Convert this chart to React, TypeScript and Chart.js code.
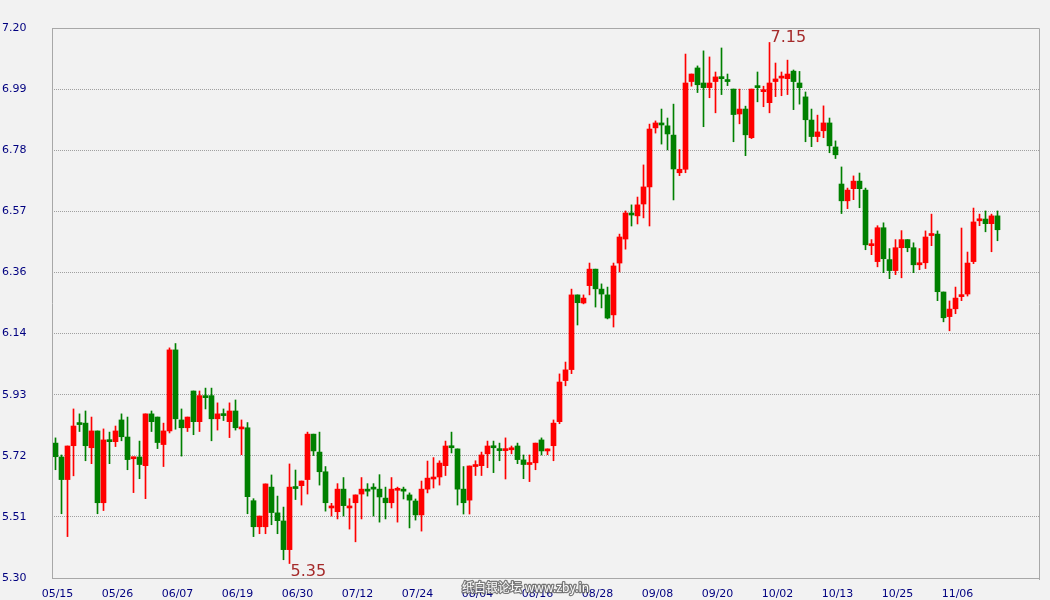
import React, { useEffect, useRef } from 'react';
import { Chart, registerables } from 'chart.js';

Chart.register(...registerables);

const dateLabels = ['05/15', '05/26', '06/07', '06/19', '06/30', '07/12', '07/24', '08/04', '08/16', '08/28', '09/08', '09/20', '10/02', '10/13', '10/25', '11/06'];
const dateLabelIndex = [0, 10, 20, 30, 40, 50, 60, 70, 80, 90, 100, 110, 120, 130, 140, 150];
const yTickValues = [5.3, 5.5111, 5.7222, 5.9333, 6.1444, 6.3556, 6.5667, 6.7778, 6.9889, 7.2];

const openPrices = [
  5.766, 5.718, 5.640, 5.757, 5.835, 5.835, 5.750, 5.808, 5.560, 5.777,
  5.771, 5.846, 5.787, 5.712, 5.718, 5.688, 5.867, 5.856, 5.761, 5.808,
  6.088, 5.846, 5.819, 5.946, 5.840, 5.930, 5.930, 5.850, 5.867, 5.840,
  5.877, 5.815, 5.819, 5.567, 5.477, 5.477, 5.614, 5.525, 5.497, 5.398,
  5.614, 5.619, 5.640, 5.797, 5.735, 5.667, 5.542, 5.529, 5.607, 5.542,
  5.560, 5.590, 5.607, 5.614, 5.607, 5.576, 5.560, 5.603, 5.607, 5.587,
  5.566, 5.518, 5.607, 5.642, 5.649, 5.688, 5.756, 5.746, 5.607, 5.569,
  5.685, 5.688, 5.729, 5.756, 5.746, 5.740, 5.743, 5.756, 5.708, 5.692,
  5.698, 5.777, 5.739, 5.757, 5.840, 5.982, 6.020, 6.278, 6.250, 6.310,
  6.367, 6.298, 6.278, 6.209, 6.388, 6.471, 6.561, 6.551, 6.592, 6.651,
  6.855, 6.872, 6.862, 6.830, 6.700, 6.712, 7.015, 7.062, 7.010, 6.994,
  7.015, 7.031, 7.020, 6.989, 6.903, 6.920, 6.821, 6.999, 6.980, 6.942,
  7.015, 7.027, 7.025, 7.051, 7.010, 6.962, 6.882, 6.825, 6.845, 6.872,
  6.789, 6.661, 6.603, 6.645, 6.671, 6.640, 6.448, 6.393, 6.510, 6.400,
  6.362, 6.441, 6.469, 6.441, 6.382, 6.389, 6.483, 6.488, 6.288, 6.203,
  6.230, 6.272, 6.281, 6.393, 6.534, 6.540, 6.524, 6.551,
];

const highPrices = [
  5.784, 5.725, 5.756, 5.884, 5.867, 5.877, 5.856, 5.808, 5.815, 5.804,
  5.825, 5.867, 5.856, 5.718, 5.773, 5.867, 5.877, 5.856, 5.835, 6.095,
  6.110, 5.884, 5.856, 5.946, 5.946, 5.956, 5.956, 5.905, 5.884, 5.905,
  5.915, 5.846, 5.837, 5.574, 5.514, 5.625, 5.656, 5.583, 5.545, 5.694,
  5.673, 5.635, 5.804, 5.797, 5.804, 5.685, 5.558, 5.626, 5.647, 5.574,
  5.587, 5.647, 5.626, 5.626, 5.657, 5.614, 5.647, 5.614, 5.614, 5.594,
  5.573, 5.635, 5.704, 5.716, 5.705, 5.773, 5.804, 5.746, 5.685, 5.687,
  5.705, 5.735, 5.773, 5.773, 5.766, 5.784, 5.756, 5.766, 5.725, 5.725,
  5.766, 5.784, 5.746, 5.846, 6.005, 6.046, 6.298, 6.278, 6.278, 6.388,
  6.367, 6.316, 6.305, 6.388, 6.488, 6.568, 6.589, 6.616, 6.727, 6.868,
  6.879, 6.920, 6.889, 6.937, 6.780, 7.110, 7.041, 7.069, 7.121, 7.100,
  7.048, 7.131, 7.041, 6.989, 6.989, 6.930, 6.989, 7.048, 6.999, 7.150,
  7.079, 7.048, 7.089, 7.055, 7.050, 6.979, 6.920, 6.899, 6.931, 6.889,
  6.810, 6.720, 6.647, 6.689, 6.699, 6.647, 6.469, 6.517, 6.527, 6.438,
  6.469, 6.500, 6.469, 6.458, 6.438, 6.499, 6.557, 6.499, 6.288, 6.257,
  6.305, 6.509, 6.426, 6.578, 6.557, 6.568, 6.557, 6.568,
];

const lowPrices = [
  5.674, 5.522, 5.443, 5.653, 5.806, 5.705, 5.695, 5.522, 5.533, 5.695,
  5.754, 5.774, 5.674, 5.595, 5.643, 5.574, 5.806, 5.747, 5.685, 5.801,
  5.814, 5.721, 5.806, 5.795, 5.806, 5.884, 5.774, 5.811, 5.844, 5.785,
  5.811, 5.726, 5.522, 5.443, 5.453, 5.453, 5.484, 5.453, 5.363, 5.350,
  5.571, 5.552, 5.590, 5.723, 5.621, 5.531, 5.514, 5.504, 5.514, 5.469,
  5.425, 5.504, 5.583, 5.514, 5.493, 5.504, 5.542, 5.493, 5.573, 5.473,
  5.500, 5.462, 5.594, 5.611, 5.621, 5.654, 5.732, 5.552, 5.521, 5.521,
  5.654, 5.654, 5.681, 5.664, 5.705, 5.642, 5.729, 5.695, 5.643, 5.633,
  5.674, 5.725, 5.726, 5.705, 5.833, 5.964, 6.006, 6.174, 6.247, 6.278,
  6.236, 6.233, 6.195, 6.167, 6.357, 6.436, 6.516, 6.523, 6.544, 6.516,
  6.837, 6.799, 6.779, 6.606, 6.690, 6.700, 6.999, 6.977, 6.859, 6.959,
  6.907, 6.970, 7.001, 6.807, 6.869, 6.759, 6.818, 6.945, 6.928, 6.907,
  6.963, 6.966, 6.970, 6.918, 6.937, 6.807, 6.790, 6.807, 6.821, 6.769,
  6.749, 6.559, 6.576, 6.607, 6.579, 6.434, 6.417, 6.375, 6.355, 6.334,
  6.348, 6.337, 6.427, 6.355, 6.365, 6.369, 6.448, 6.258, 6.185, 6.154,
  6.213, 6.258, 6.274, 6.386, 6.517, 6.496, 6.427, 6.465,
];

const closePrices = [
  5.719, 5.640, 5.756, 5.825, 5.830, 5.757, 5.808, 5.560, 5.777, 5.771,
  5.808, 5.788, 5.709, 5.718, 5.692, 5.867, 5.840, 5.768, 5.808, 6.088,
  5.850, 5.819, 5.856, 5.840, 5.930, 5.923, 5.850, 5.867, 5.861, 5.877,
  5.819, 5.819, 5.581, 5.477, 5.514, 5.625, 5.526, 5.498, 5.398, 5.614,
  5.609, 5.635, 5.797, 5.739, 5.667, 5.560, 5.546, 5.607, 5.550, 5.546,
  5.587, 5.607, 5.600, 5.607, 5.580, 5.560, 5.607, 5.607, 5.600, 5.569,
  5.518, 5.607, 5.645, 5.645, 5.697, 5.756, 5.750, 5.607, 5.560, 5.687,
  5.688, 5.725, 5.756, 5.750, 5.740, 5.746, 5.746, 5.709, 5.692, 5.697,
  5.766, 5.739, 5.746, 5.835, 5.977, 6.019, 6.278, 6.251, 6.267, 6.367,
  6.299, 6.281, 6.198, 6.378, 6.478, 6.561, 6.554, 6.589, 6.651, 6.851,
  6.872, 6.865, 6.834, 6.713, 6.712, 7.010, 7.041, 7.004, 6.994, 7.010,
  7.031, 7.025, 7.015, 6.901, 6.920, 6.831, 6.989, 6.994, 6.983, 7.010,
  7.024, 7.031, 7.041, 7.015, 6.994, 6.883, 6.825, 6.841, 6.872, 6.793,
  6.762, 6.603, 6.640, 6.671, 6.645, 6.451, 6.451, 6.510, 6.403, 6.362,
  6.441, 6.469, 6.441, 6.382, 6.389, 6.478, 6.490, 6.289, 6.199, 6.229,
  6.267, 6.278, 6.388, 6.530, 6.540, 6.524, 6.551, 6.503,
];

const UP = '#FF0000';
const DOWN = '#008000';
const BG = '#F2F2F2';
const FRAME = '#A8A8A8';
const LABEL = '#000080';
const FONT = '"DejaVu Sans", Verdana, sans-serif';

const decorPlugin = {
  id: 'decor',
  beforeDraw(chart: any) {
    const ctx = chart.ctx;
    ctx.save();
    ctx.fillStyle = BG;
    ctx.fillRect(0, 0, chart.width, chart.height);
    ctx.restore();
  },
  afterDraw(chart: any) {
    const ctx = chart.ctx;
    const { left, top, right, bottom } = chart.chartArea;
    const xs = chart.scales.x;
    const ys = chart.scales.y;
    ctx.save();
    ctx.strokeStyle = FRAME;
    ctx.lineWidth = 1;
    ctx.setLineDash([]);
    ctx.beginPath();
    ctx.moveTo(left + 0.5, top + 0.5);
    ctx.lineTo(right - 0.5, top + 0.5);
    ctx.lineTo(right - 0.5, bottom + 2);
    ctx.moveTo(left + 0.5, top + 0.5);
    ctx.lineTo(left + 0.5, bottom + 0.5);
    ctx.lineTo(right - 0.5, bottom + 0.5);
    ctx.stroke();

    let hi = 0;
    let lo = 0;
    for (let i = 0; i < highPrices.length; i++) {
      if (highPrices[i] > highPrices[hi]) hi = i;
      if (lowPrices[i] < lowPrices[lo]) lo = i;
    }
    ctx.font = '16px ' + FONT;
    ctx.fillStyle = '#A52A2A';
    ctx.textAlign = 'left';
    ctx.textBaseline = 'alphabetic';
    ctx.fillText(highPrices[hi].toFixed(2), xs.getPixelForValue(hi) + 1, ys.getPixelForValue(highPrices[hi]));
    ctx.fillText(lowPrices[lo].toFixed(2), xs.getPixelForValue(lo) + 1, ys.getPixelForValue(lowPrices[lo]) + 12);

    ctx.font = '12px "Noto Sans CJK SC", sans-serif';
    ctx.textBaseline = 'middle';
    ctx.lineWidth = 2.5;
    ctx.lineJoin = 'round';
    ctx.strokeStyle = 'rgba(100,100,100,0.85)';
    ctx.fillStyle = '#FFFFFF';
    const wm = '纸白银论坛 www.zby.in';
    ctx.strokeText(wm, 462, 587);
    ctx.fillText(wm, 462, 587);
    ctx.restore();
  },
};

export default function App() {
  const canvasRef = useRef<HTMLCanvasElement | null>(null);

  useEffect(() => {
    if (!canvasRef.current) return;
    const colors = closePrices.map((c, i) => (c >= openPrices[i] ? UP : DOWN));
    const wickData = highPrices.map((h, i) => ({ x: i, y: [lowPrices[i], h] }));
    const bodyData = openPrices.map((o, i) => ({ x: i, y: [o, closePrices[i]] }));

    const chart = new Chart(canvasRef.current, {
      type: 'bar',
      data: {
        datasets: [
          {
            label: 'wick',
            data: wickData as any,
            backgroundColor: colors,
            barThickness: 1,
            grouped: false,
            order: 2,
            borderWidth: 0,
          } as any,
          {
            label: 'body',
            data: bodyData as any,
            backgroundColor: colors,
            barThickness: 5,
            minBarLength: 2,
            grouped: false,
            order: 1,
            borderWidth: 0,
          } as any,
        ],
      },
      options: {
        responsive: false,
        animation: false,
        devicePixelRatio: 1,
        events: [],
        layout: { padding: { left: 2, top: 28, right: 10, bottom: 0 } },
        plugins: { legend: { display: false }, tooltip: { enabled: false } },
        scales: {
          x: {
            type: 'linear',
            min: -0.5833,
            max: 164.083,
            offset: false,
            grid: { display: false, offset: false },
            border: { display: false },
            afterBuildTicks: (s: any) => {
              s.ticks = dateLabelIndex.map((v) => ({ value: v }));
            },
            afterFit: (s: any) => {
              s.height = 22;
            },
            ticks: {
              autoSkip: false,
              maxRotation: 0,
              minRotation: 0,
              padding: 2,
              labelOffset: 2,
              color: LABEL,
              font: { family: FONT, size: 11 },
              callback: (v: any) => {
                const k = dateLabelIndex.indexOf(Number(v));
                return k >= 0 ? dateLabels[k] : '';
              },
            },
          },
          y: {
            type: 'linear',
            min: 5.3,
            max: 7.2,
            afterBuildTicks: (s: any) => {
              s.ticks = yTickValues.map((v) => ({ value: v }));
            },
            afterFit: (s: any) => {
              s.width = 50;
            },
            grid: { color: '#A0A0A0', lineWidth: 1, drawTicks: false },
            border: { display: false, dash: [1, 1] },
            ticks: {
              crossAlign: 'far',
              padding: 0,
              color: LABEL,
              font: { family: FONT, size: 11 },
              callback: (v: any) => Number(v).toFixed(2),
            },
          },
        },
      } as any,
      plugins: [decorPlugin],
    });
    return () => chart.destroy();
  }, []);

  return (
    <div style={{ position: 'fixed', left: 0, top: 0, width: 1050, height: 600, background: BG }}>
      <canvas ref={canvasRef} width={1050} height={600} style={{ display: 'block', width: 1050, height: 600 }} />
    </div>
  );
}
